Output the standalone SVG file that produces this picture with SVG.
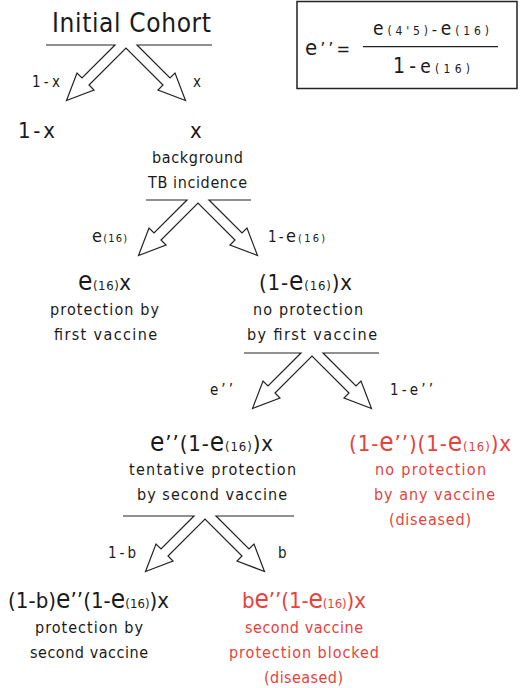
<svg xmlns="http://www.w3.org/2000/svg" width="530" height="688" viewBox="0 0 530 688">
<style>
text{font-family:"DejaVu Sans Condensed","DejaVu Sans","Liberation Sans",sans-serif;fill:#1a1a1a}
.red{fill:#e8413c}
.ti{font-size:26px}
.f{font-size:22px}
.E{font-size:26px}
.s{font-size:13px}
.b{font-size:16px}
.l{font-size:15px}
.le{font-size:18px}
.ls{font-size:11px}
.conn{fill:none;stroke:#222;stroke-width:1.2;stroke-linejoin:miter}
</style>
<rect width="530" height="688" fill="#fff"/>

<g id="formula">
<rect x="297" y="1.5" width="220" height="87" fill="none" stroke="#222" stroke-width="1.5"/>
<text x="305" y="55" textLength="45" lengthAdjust="spacing"><tspan font-size="22px">e</tspan><tspan font-size="18px">’’=</tspan></text>
<text x="373" y="35" textLength="116" lengthAdjust="spacing"><tspan font-size="19px">e</tspan><tspan font-size="12px">(4'5)</tspan><tspan font-size="16px">-</tspan><tspan font-size="19px">e</tspan><tspan font-size="12px">(16)</tspan></text>
<line x1="363" y1="46.7" x2="498" y2="46.7" stroke="#222" stroke-width="1.2"/>
<text x="393" y="73" textLength="77" lengthAdjust="spacing"><tspan font-size="21px">1-</tspan><tspan font-size="19px">e</tspan><tspan font-size="12px">(16)</tspan></text>
</g>

<g id="connectors">
<polyline class="conn" points="46,45 115,45 82,78 77,73 66.5,100.5 94,90 89,85 126,48 163,85 158,90 185.5,100.5 175,73 170,78 137,45 212,45"/>
<polyline class="conn" points="146,200 187,200 154,233 149,228 138.5,255.5 166,245 161,240 198,203 235,240 230,245 257.5,255.5 247,228 242,233 209,200 251,200"/>
<polyline class="conn" points="244,353 301,353 268,386 263,381 252.5,408.5 280,398 275,393 312,356 349,393 344,398 371.5,408.5 361,381 356,386 323,353 379,353"/>
<polyline class="conn" points="123,516 194,516 161,549 156,544 145.5,571.5 173,561 168,556 205,519 242,556 237,561 264.5,571.5 254,544 249,549 216,516 294,516"/>
<text class="l" x="32" y="87" textLength="28" lengthAdjust="spacing">1-x</text>
<text class="l" x="193" y="87">x</text>
<text x="92" y="242" textLength="35" lengthAdjust="spacing"><tspan class="le">e</tspan><tspan class="ls">(16)</tspan></text>
<text x="268" y="242" textLength="57" lengthAdjust="spacing"><tspan class="l">1-</tspan><tspan class="le">e</tspan><tspan class="ls">(16)</tspan></text>
<text class="l" x="210" y="395" textLength="23" lengthAdjust="spacing">e’’</text>
<text class="l" x="390" y="395" textLength="43" lengthAdjust="spacing">1-e’’</text>
<text class="l" x="108" y="558" textLength="28" lengthAdjust="spacing">1-b</text>
<text class="l" x="278" y="558">b</text>
</g>

<g id="initial-cohort">
<text class="ti" x="52" y="32" textLength="159" lengthAdjust="spacing">Initial Cohort</text>
</g>

<g id="one-minus-x">
<text class="f" x="18" y="138" textLength="37" lengthAdjust="spacing">1-x</text>
</g>

<g id="x">
<text class="f" x="190" y="138">x</text>
<text class="b" x="152" y="163" textLength="91" lengthAdjust="spacing">background</text>
<text class="b" x="148" y="188" textLength="99" lengthAdjust="spacing">TB incidence</text>
</g>

<g id="e16x">
<text class="f" x="78" y="290" textLength="53" lengthAdjust="spacing"><tspan class="E">e</tspan><tspan class="s">(16)</tspan>x</text>
<text class="b" x="50" y="315" textLength="109" lengthAdjust="spacing">protection by</text>
<text class="b" x="54" y="340" textLength="103" lengthAdjust="spacing">first vaccine</text>
</g>

<g id="one-minus-e16x">
<text class="f" x="259" y="290" textLength="93" lengthAdjust="spacing">(1-<tspan class="E">e</tspan><tspan class="s">(16)</tspan>)x</text>
<text class="b" x="253" y="315" textLength="110" lengthAdjust="spacing">no protection</text>
<text class="b" x="247" y="340" textLength="130" lengthAdjust="spacing">by first vaccine</text>
</g>

<g id="tentative">
<text class="f" x="150" y="451" textLength="123" lengthAdjust="spacing"><tspan class="E">e</tspan>’’(1-<tspan class="E">e</tspan><tspan class="s">(16)</tspan>)x</text>
<text class="b" x="129" y="475" textLength="167" lengthAdjust="spacing">tentative protection</text>
<text class="b" x="137" y="500" textLength="150" lengthAdjust="spacing">by second vaccine</text>
</g>

<g id="no-protection">
<text class="f red" x="349" y="451" textLength="162" lengthAdjust="spacing">(1-<tspan class="E">e</tspan>’’)(1-<tspan class="E">e</tspan><tspan class="s">(16)</tspan>)x</text>
<text class="b red" x="375" y="475" textLength="111" lengthAdjust="spacing">no protection</text>
<text class="b red" x="374" y="500" textLength="121" lengthAdjust="spacing">by any vaccine</text>
<text class="b red" x="389" y="525" textLength="82" lengthAdjust="spacing">(diseased)</text>
</g>

<g id="protected-second">
<text class="f" x="8" y="608" textLength="161" lengthAdjust="spacing">(1-b)<tspan class="E">e</tspan>’’(1-<tspan class="E">e</tspan><tspan class="s">(16)</tspan>)x</text>
<text class="b" x="35" y="633" textLength="108" lengthAdjust="spacing">protection by</text>
<text class="b" x="30" y="658" textLength="118" lengthAdjust="spacing">second vaccine</text>
</g>

<g id="blocked">
<text class="f red" x="242" y="608" textLength="124" lengthAdjust="spacing">b<tspan class="E">e</tspan>’’(1-<tspan class="E">e</tspan><tspan class="s">(16)</tspan>)x</text>
<text class="b red" x="245" y="633" textLength="118" lengthAdjust="spacing">second vaccine</text>
<text class="b red" x="229" y="658" textLength="150" lengthAdjust="spacing">protection blocked</text>
<text class="b red" x="264" y="683" textLength="79" lengthAdjust="spacing">(diseased)</text>
</g>
</svg>
